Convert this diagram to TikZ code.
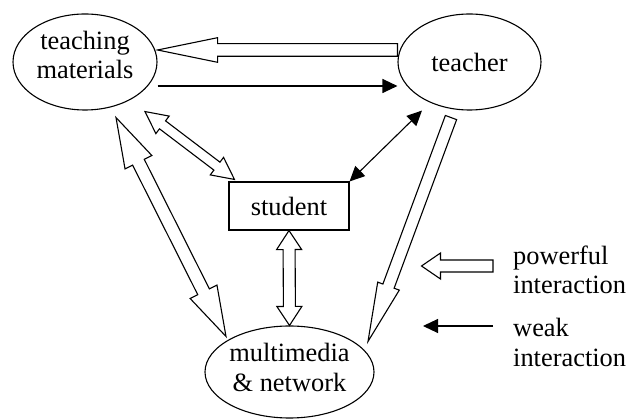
\documentclass[tikz,border=0pt]{standalone}
\usepackage{fontspec}
\setmainfont{Liberation Serif}
\usetikzlibrary{calc,shapes.geometric,arrows.meta}
% hollow single-headed arrow: from, to, shaft half width, head length, head half width
\newcommand\hollowsingle[5]{%
  \coordinate (hsA) at (#1);
  \coordinate (hsB) at (#2);
  \coordinate (hsC) at ($(hsB)!#4!(hsA)$);
  \draw[hollow] ($(hsA)!#3!90:(hsB)$) -- ($(hsC)!#3!90:(hsB)$) -- ($(hsC)!#5!90:(hsB)$)
    -- (hsB) -- ($(hsC)!#5!-90:(hsB)$) -- ($(hsC)!#3!-90:(hsB)$) -- ($(hsA)!#3!-90:(hsB)$) -- cycle;
}
% hollow double-headed arrow
\newcommand\hollowdouble[5]{%
  \coordinate (hdA) at (#1);
  \coordinate (hdB) at (#2);
  \coordinate (hdC) at ($(hdB)!#4!(hdA)$);
  \coordinate (hdD) at ($(hdA)!#4!(hdB)$);
  \draw[hollow] (hdA) -- ($(hdD)!#5!90:(hdB)$) -- ($(hdD)!#3!90:(hdB)$) -- ($(hdC)!#3!90:(hdB)$)
    -- ($(hdC)!#5!90:(hdB)$) -- (hdB) -- ($(hdC)!#5!-90:(hdB)$) -- ($(hdC)!#3!-90:(hdB)$)
    -- ($(hdD)!#3!-90:(hdB)$) -- ($(hdD)!#5!-90:(hdB)$) -- cycle;
}
\begin{document}
\begin{tikzpicture}[x=1pt,y=-1pt,
  every node/.style={font=\fontsize{26.4}{29.5}\selectfont, inner sep=0pt},
  ell/.style={draw, ellipse, line width=1.1pt},
  box/.style={draw, rectangle, line width=1.1pt, minimum width=120pt, minimum height=48pt},
  txt/.style={align=center},
  legendtxt/.style={align=left, anchor=west},
  hollow/.style={draw, line width=1.1pt, fill=white, line join=miter},
  tip/.style={line width=1.1pt, -{Triangle[length=15pt,width=14pt]}},
  tipboth/.style={line width=1.1pt, {Triangle[length=15pt,width=14pt]}-{Triangle[length=15pt,width=14pt]}},
]
\useasboundingbox (0,0) rectangle (627,419);

% nodes
\node[ell, minimum width=144pt, minimum height=96pt] (tm) at (85,62) {};
\node[txt] (tmtext) at (85,55.2) {teaching\\materials};
\node[ell, minimum width=143pt, minimum height=96pt] (teacher) at (469.5,62) {teacher};
\node[box] (student) at (289,206) {student};
\node[ell, minimum width=169pt, minimum height=92pt] (mm) at (289.5,372) {};
\node[txt] (mmtext) at (289.5,367.5) {multimedia\\\& network};

% connectors
\hollowsingle{$(teacher.west)+(0,-12)$}{$(tm.east)+(0,-12)$}{6.3pt}{60pt}{12.3pt}
\draw[tip] ($(tm.east)+(0,24)$) -- ($(teacher.west)+(0,24)$);
\hollowdouble{$(tm.south)+(60,1)$}{$(student.north west)+(6,-2)$}{5pt}{22pt}{11pt}
\hollowdouble{$(tm.south)+(31,7)$}{$(mm.north)+(-63.5,11)$}{6.5pt}{50pt}{15pt}
\hollowdouble{student.south}{mm.north}{6pt}{19pt}{12.5pt}
\draw[tipboth] (student.north east) -- ($(teacher.south)+(-47.5,0)$);
\hollowsingle{$(teacher.south)+(-18.5,7)$}{$(mm.north)+(78.5,16)$}{6pt}{59pt}{11.5pt}

% legend
\coordinate (lp1) at (493,266);
\coordinate (lp2) at (421.5,266);
\coordinate (lw1) at (493,326);
\coordinate (lw2) at (423,326);
\hollowsingle{lp1}{lp2}{6pt}{19pt}{13pt}
\draw[tip] (lw1) -- (lw2);
\node[legendtxt] (lpt) at (513,270) {powerful\\interaction};
\node[legendtxt] (lwt) at (513,342.5) {weak\\interaction};
\end{tikzpicture}
\end{document}
